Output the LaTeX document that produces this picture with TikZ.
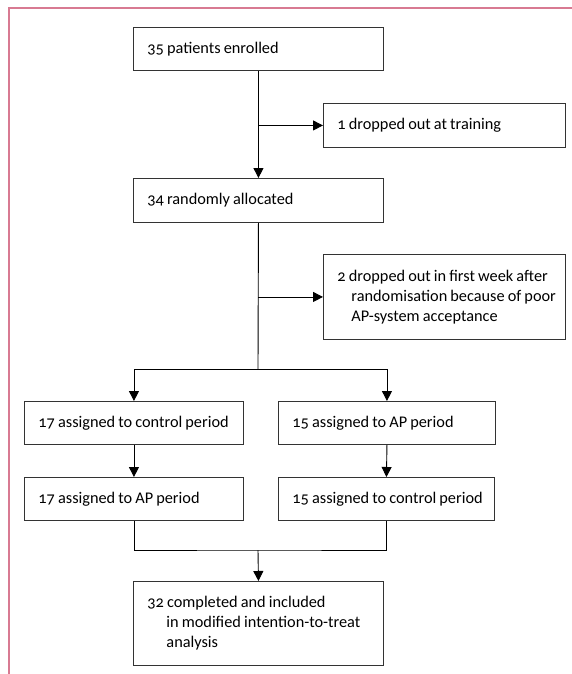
\documentclass[tikz,border=0pt]{standalone}
\usepackage{fontspec}
\setmainfont[Numbers=OldStyle]{Carlito}
\usetikzlibrary{arrows.meta}
\definecolor{framepink}{RGB}{216,122,146}
\tikzset{
  flowbox/.style={draw=black!80, line width=0.9pt, anchor=north west,
    inner xsep=14pt, inner ysep=0pt, align=left,
    font=\fontsize{16.3}{20}\selectfont,
    execute at begin node={\spaceskip=0.19em\relax\hfuzz=40pt}},
}
\begin{document}
\begin{tikzpicture}[x=1pt,y=-1pt,>={Triangle[width=10pt,length=10pt]},line width=0.9pt]
        \useasboundingbox (0,0) rectangle (572,674);
        % frame
        \draw[framepink,line width=2pt] (9,674)--(9,8)--(572,8);
        % boxes
        \node[flowbox,minimum width=250pt,minimum height=43pt,text width=222pt] (enrol) at (133,27) {35 patients enrolled};
        \node[flowbox,minimum width=242pt,minimum height=44pt,text width=214pt] (drop1) at (323,103) {1 dropped out at training};
        \node[flowbox,minimum width=250pt,minimum height=44pt,text width=222pt] (alloc) at (133,178) {34 randomly allocated};
        \node[flowbox,minimum width=242pt,minimum height=85pt,text width=214pt] (drop2) at (323,254) {\mbox{2 dropped out in first week after}\\\hspace*{14pt}\mbox{randomisation because of poor}\\\hspace*{14pt}AP-system acceptance};
        \node[flowbox,minimum width=219pt,minimum height=43pt,text width=191pt] (ctrlA) at (24,401) {\mbox{17 assigned to control period}};
        \node[flowbox,minimum width=217pt,minimum height=43pt,text width=189pt] (apA) at (278,401) {15 assigned to AP period};
        \node[flowbox,minimum width=219pt,minimum height=43pt,text width=191pt] (apB) at (24,477) {17 assigned to AP period};
        \node[flowbox,minimum width=216pt,minimum height=43pt,text width=188pt] (ctrlB) at (278,477) {\mbox{15 assigned to control period}};
        \node[flowbox,minimum width=250pt,minimum height=84pt,text width=222pt] (done) at (133,581) {32 completed and included\\\hspace*{19pt}\mbox{in modified intention-to-treat}\\\hspace*{19pt}analysis};
        % connectors
        \coordinate (split) at (258,369);
        \coordinate (join) at (258,550);
        \draw[->] (enrol.south)--(alloc.north);
        \draw[->] (enrol.south |- drop1.west)--(drop1.west);
        \draw (alloc.south)--(split);
        \draw[->] (alloc.south |- drop2.west)--(drop2.west);
        \draw[->] (split)-|(ctrlA.north);
        \draw[->] (split)-|(apA.north);
        \draw[->] (ctrlA.south)--(apB.north);
        \draw[->] (apA.south)--(ctrlB.north);
        \draw (apB.south)|-(join)-|(ctrlB.south);
        \draw[->] (join)--(done.north);
    \end{tikzpicture}
\end{document}
